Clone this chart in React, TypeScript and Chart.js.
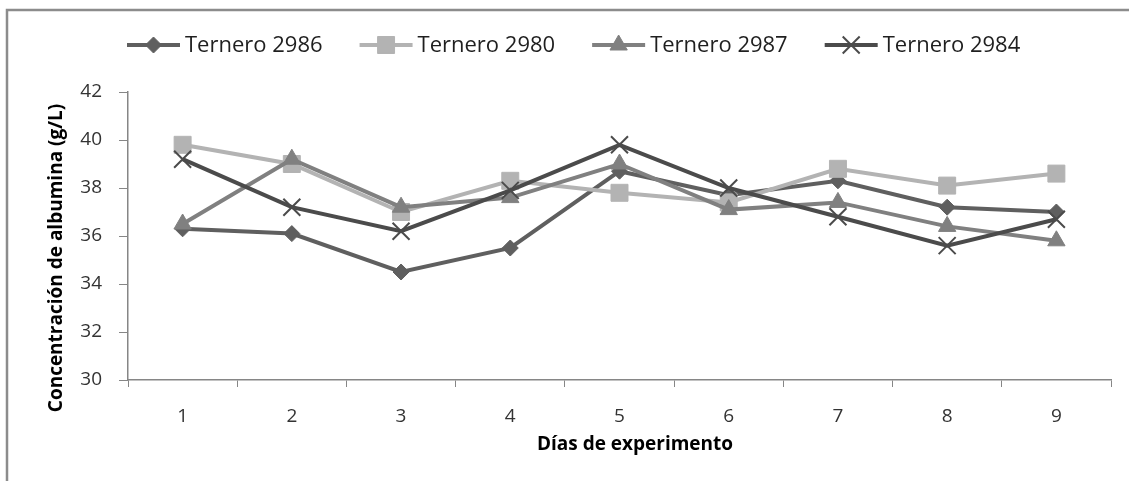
import { useEffect, useRef } from 'react';
import { Chart, registerables } from 'chart.js';
import { drawPoint } from 'chart.js/helpers';

Chart.register(...registerables);

// Días del experimento (eje X)
const days = ['1', '2', '3', '4', '5', '6', '7', '8', '9'];

// Concentración de albúmina (g/L) por ternero
const ternero2986 = [36.3, 36.1, 34.5, 35.5, 38.7, 37.7, 38.3, 37.2, 37.0];
const ternero2980 = [39.8, 39.0, 37.0, 38.3, 37.8, 37.4, 38.8, 38.1, 38.6];
const ternero2987 = [36.5, 39.2, 37.2, 37.6, 39.0, 37.1, 37.4, 36.4, 35.8];
const ternero2984 = [39.2, 37.2, 36.2, 37.9, 39.8, 38.0, 36.8, 35.6, 36.7];

const seriesNames = ['Ternero 2986', 'Ternero 2980', 'Ternero 2987', 'Ternero 2984'];
const seriesValues = [ternero2986, ternero2980, ternero2987, ternero2984];

const yTicks = { min: 30, max: 42, step: 2 };
const yTitle = 'Concentración de albumina (g/L)';
const xTitle = 'Días de experimento';

const FONT = "'Open Sans', 'DejaVu Sans', sans-serif";
const AXIS_COLOR = '#868686';

const seriesStyles = [
  { color: '#5f5f5f', pointStyle: 'rectRot', radius: 8, pointBorderWidth: 1 },
  { color: '#b3b3b3', pointStyle: 'rect', radius: 12, pointBorderWidth: 1 },
  { color: '#808080', pointStyle: 'triangle', radius: 10, pointBorderWidth: 1 },
  { color: '#4b4b4b', pointStyle: 'crossRot', radius: 12, pointBorderWidth: 2 },
];

// Outer frame, legend with line+marker samples, and axis titles
const decorations = {
  id: 'decorations',
  beforeDraw(chart: any) {
    const c = chart.ctx;
    c.save();
    c.fillStyle = '#ffffff';
    c.fillRect(0, 0, chart.width, chart.height);
    c.strokeStyle = '#8c8c8c';
    c.lineWidth = 2.5;
    c.beginPath();
    c.moveTo(7, chart.height);
    c.lineTo(7, 10);
    c.lineTo(chart.width, 10);
    c.stroke();
    c.restore();
  },
  afterDraw(chart: any) {
    const c = chart.ctx;
    c.save();

    // legend
    const ly = 45;
    let x = 127;
    c.font = `22px ${FONT}`;
    c.textBaseline = 'middle';
    c.textAlign = 'left';
    seriesNames.forEach((name, i) => {
      const st = seriesStyles[i];
      c.strokeStyle = st.color;
      c.lineWidth = 4;
      c.beginPath();
      c.moveTo(x, ly);
      c.lineTo(x + 53, ly);
      c.stroke();
      c.fillStyle = st.color;
      c.strokeStyle = st.color;
      c.lineWidth = st.pointBorderWidth;
      drawPoint(c, { pointStyle: st.pointStyle, rotation: 0, radius: st.radius, borderWidth: st.pointBorderWidth } as any, x + 26.5, ly);
      c.fillStyle = '#1f1f1f';
      c.fillText(name, x + 58, ly + 1);
      x += 58 + c.measureText(name).width + 37;
    });

    // axis titles
    c.fillStyle = '#000000';
    c.font = `bold 19px ${FONT}`;
    c.textAlign = 'center';
    c.textBaseline = 'middle';
    c.fillText(xTitle, 635, 445);
    c.translate(57, 258);
    c.rotate(-Math.PI / 2);
    c.fillText(yTitle, 0, 0);
    c.restore();
  },
};

export default function App() {
  const canvasRef = useRef<HTMLCanvasElement | null>(null);

  useEffect(() => {
    if (!canvasRef.current) return;
    const chart = new Chart(canvasRef.current, {
      type: 'line',
      data: {
        labels: days,
        datasets: seriesNames.map((name, i) => {
          const st = seriesStyles[i];
          return {
            label: name,
            data: seriesValues[i],
            borderColor: st.color,
            backgroundColor: st.color,
            borderWidth: 4,
            tension: 0,
            pointStyle: st.pointStyle as any,
            pointRadius: st.radius,
            pointHoverRadius: st.radius,
            pointBackgroundColor: st.color,
            pointBorderColor: st.color,
            pointBorderWidth: st.pointBorderWidth,
            order: seriesNames.length - 1 - i,
          };
        }),
      },
      options: {
        animation: false,
        responsive: false,
        maintainAspectRatio: false,
        layout: { padding: { left: 0, top: 92, right: 18, bottom: 0 } },
        plugins: { legend: { display: false }, tooltip: { enabled: false } },
        scales: {
          x: {
            type: 'category',
            offset: true,
            grid: { offset: true, drawOnChartArea: false, drawTicks: true, tickLength: 7, color: AXIS_COLOR },
            border: { color: AXIS_COLOR, width: 1.5 },
            ticks: { color: '#333333', font: { family: FONT, size: 19 }, padding: 18, maxRotation: 0, autoSkip: false },
            afterFit: (s: any) => { s.height = 101; },
          },
          y: {
            min: yTicks.min,
            max: yTicks.max,
            grid: { drawOnChartArea: false, drawTicks: true, tickLength: 9, color: AXIS_COLOR },
            border: { color: AXIS_COLOR, width: 1.5 },
            ticks: { stepSize: yTicks.step, color: '#333333', font: { family: FONT, size: 19 }, padding: 17 },
            afterFit: (s: any) => { s.width = 128; },
          },
        },
      },
      plugins: [decorations],
    });
    return () => chart.destroy();
  }, []);

  return (
    <div style={{ position: 'absolute', left: 0, top: 0, width: 1129, height: 481 }}>
      <canvas ref={canvasRef} width={1129} height={481} style={{ display: 'block' }} />
    </div>
  );
}
